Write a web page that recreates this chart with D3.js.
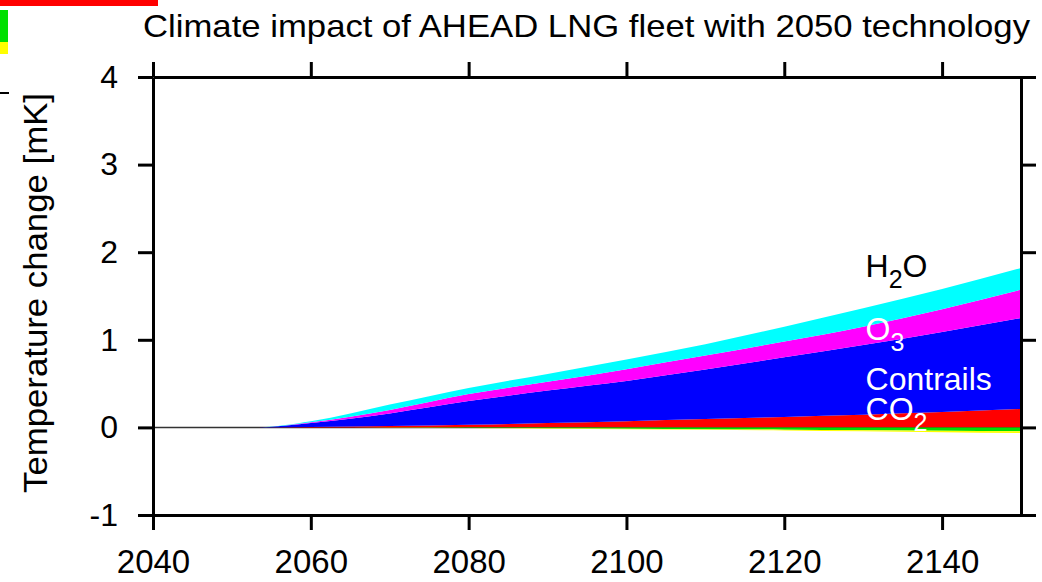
<!DOCTYPE html>
<html>
<head>
<meta charset="utf-8">
<script src="https://cdn.jsdelivr.net/npm/d3@7"></script>
<style>
  body { margin: 0; background: #fff; }
  svg { display: block; font-family: "Liberation Sans", Arial, Helvetica, sans-serif; }
  .axis path, .axis line { stroke: #000; stroke-width: 3; }
</style>
</head>
<body>
<svg id="chart" width="1042" height="582"></svg>
<script>
// years and contributions (mK)
var years     = [2040, 2050, 2053, 2060, 2070, 2080, 2090, 2100, 2110, 2120, 2130, 2140, 2150];
var co2       = [0, 0, 0, 0.005, 0.015, 0.03, 0.05, 0.07, 0.095, 0.12, 0.145, 0.175, 0.21];
var contrails = [0, 0, 0, 0.045, 0.145, 0.27, 0.37, 0.46, 0.565, 0.68, 0.795, 0.915, 1.04];
var o3        = [0, 0, 0, 0.01, 0.04, 0.08, 0.10, 0.135, 0.16, 0.18, 0.21, 0.26, 0.32];
var h2o       = [0, 0, 0, 0.01, 0.06, 0.07, 0.09, 0.11, 0.13, 0.17, 0.21, 0.23, 0.25];
var ch4       = [0, 0, 0, 0, -0.002, -0.006, -0.01, -0.015, -0.02, -0.026, -0.032, -0.038, -0.045];
var pmo       = [0, 0, 0, 0, -0.001, -0.002, -0.004, -0.006, -0.008, -0.01, -0.013, -0.016, -0.02];

var keys   = ["CO2", "CH4", "PMO", "Contrails", "O3", "H2O"];
var colors = {CO2: "#ff0000", CH4: "#00e000", PMO: "#ffff00", Contrails: "#0000ff", O3: "#ff00ff", H2O: "#00ffff"};
var xTicks = [2040, 2060, 2080, 2100, 2120, 2140];
var yTicks = [-1, 0, 1, 2, 3, 4];
var title  = "Climate impact of AHEAD LNG fleet with 2050 technology";
var yTitle = "Temperature change [mK]";
// cropped legend of a neighbouring panel, top left corner
var legendKeys = ["CO2", "CH4", "PMO"];

var svg = d3.select("#chart"),
    margin = {top: 77, right: 21, bottom: 67, left: 153},
    width = +svg.attr("width") - margin.left - margin.right,
    height = +svg.attr("height") - margin.top - margin.bottom;

var rows = years.map(function (yr, i) {
    return {year: yr, CO2: co2[i], CH4: ch4[i], PMO: pmo[i], Contrails: contrails[i], O3: o3[i], H2O: h2o[i]};
});

// leftover legend strip of the neighbouring panel
svg.append("rect").attr("x", 0).attr("y", 0).attr("width", 158).attr("height", 6).attr("fill", colors[legendKeys[0]]);
svg.append("rect").attr("x", 0).attr("y", 10).attr("width", 8).attr("height", 32).attr("fill", colors[legendKeys[1]]);
svg.append("rect").attr("x", 0).attr("y", 42).attr("width", 8).attr("height", 12).attr("fill", colors[legendKeys[2]]);
svg.append("rect").attr("x", 0).attr("y", 92).attr("width", 9).attr("height", 2).attr("fill", "#000");

var x = d3.scaleLinear().domain([2040, 2150]).range([0, width]);
var y = d3.scaleLinear().domain([-1, 4]).range([height, 0]);

var g = svg.append("g")
    .attr("transform", "translate(" + margin.left + "," + margin.top + ")");

// zero line
g.append("line")
    .attr("x1", 0).attr("x2", width)
    .attr("y1", y(0)).attr("y2", y(0))
    .attr("stroke", "#333").attr("stroke-width", 1.5);

var stack = d3.stack().keys(keys).offset(d3.stackOffsetDiverging);
var layers = stack(rows);

var area = d3.area()
    .curve(d3.curveMonotoneX)
    .x(function (d) { return x(d.data.year); })
    .y0(function (d) { return y(d[0]); })
    .y1(function (d) { return y(d[1]); });

g.selectAll(".layer")
    .data(layers)
    .enter().append("path")
    .attr("class", "layer")
    .attr("fill", function (d) { return colors[d.key]; })
    .attr("d", area);

// axes, ticks outward on all four sides
var tick = 15;
g.append("g").attr("class", "axis")
    .attr("transform", "translate(0," + height + ")")
    .call(d3.axisBottom(x).tickValues(xTicks).tickFormat(d3.format("d")).tickSize(tick).tickSizeOuter(0).tickPadding(20))
    .selectAll("text").attr("font-size", 33).attr("fill", "#000");
g.append("g").attr("class", "axis")
    .call(d3.axisTop(x).tickValues(xTicks).tickFormat("").tickSize(tick).tickSizeOuter(0));
g.append("g").attr("class", "axis")
    .call(d3.axisLeft(y).tickValues(yTicks).tickFormat(function (d) { return String(d); }).tickSize(tick).tickSizeOuter(0).tickPadding(20))
    .selectAll("text").attr("font-size", 32).attr("fill", "#000");
g.append("g").attr("class", "axis")
    .attr("transform", "translate(" + width + ",0)")
    .call(d3.axisRight(y).tickValues(yTicks).tickFormat("").tickSize(tick).tickSizeOuter(0));
svg.selectAll(".axis").attr("font-family", null);

// title
svg.append("text")
    .attr("x", 143)
    .attr("y", 37)
    .attr("font-size", 32)
    .attr("textLength", 887)
    .attr("lengthAdjust", "spacingAndGlyphs")
    .text(title);

// y axis title
svg.append("text")
    .attr("transform", "translate(47," + (margin.top + y(1.5) - 3) + ") rotate(-90)")
    .attr("font-size", 33)
    .attr("text-anchor", "middle")
    .attr("textLength", 400)
    .attr("lengthAdjust", "spacingAndGlyphs")
    .text(yTitle);

// series labels, main part and optional subscript and tail
function label(parts, yr, val, fill) {
    var t = g.append("text")
        .attr("x", x(yr)).attr("y", y(val))
        .attr("font-size", 32)
        .attr("fill", fill);
    t.append("tspan").text(parts[0]);
    if (parts[1]) t.append("tspan").attr("font-size", 25).attr("dy", 11).text(parts[1]);
    if (parts[2]) t.append("tspan").attr("dy", -11).text(parts[2]);
}
label(["H", "2", "O"], 2130.3, 1.72, "#000");
label(["O", "3"], 2130.3, 1.0, "#fff");
label(["Contrails"], 2130.3, 0.43, "#fff");
label(["CO", "2"], 2130.3, 0.08, "#fff");
</script>
</body>
</html>
